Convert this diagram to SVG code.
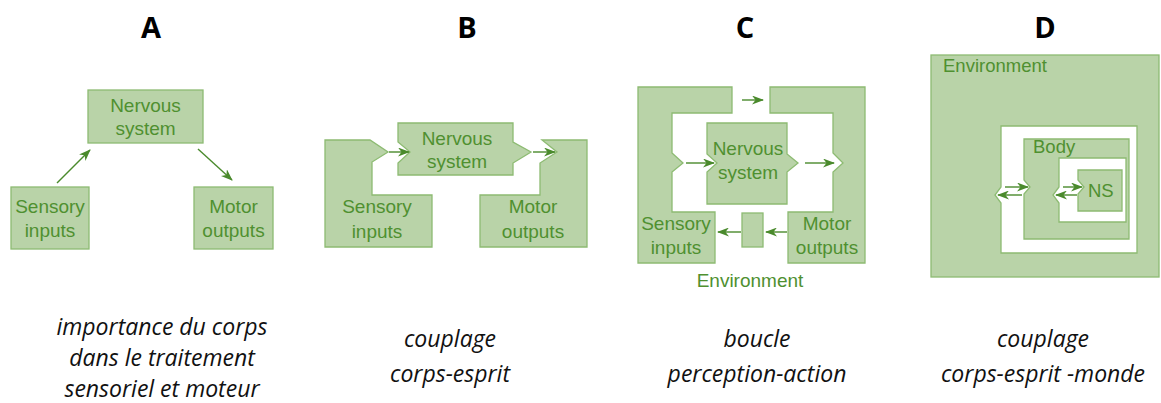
<svg xmlns="http://www.w3.org/2000/svg" width="1161" height="403" viewBox="0 0 1161 403">
<defs>
<marker id="ah" viewBox="0 0 12 9" refX="11" refY="4.5" markerWidth="12" markerHeight="9" markerUnits="userSpaceOnUse" orient="auto">
<path d="M0,0 L12,4.5 L0,9 L3.5,4.5 z" fill="#4a8a2c"/>
</marker>
<style>
.sh{fill:#b9d3a8;stroke:#8dbb72;stroke-width:1.3}
.wh{fill:#ffffff;stroke:#8dbb72;stroke-width:1.3}
.lb{font-family:"Liberation Sans",Arial,sans-serif;font-size:19px;fill:#4f9030;text-anchor:middle}
.lbl{font-family:"Liberation Sans",Arial,sans-serif;font-size:18.5px;fill:#4f9030}
.ar{stroke:#4a8a2c;stroke-width:1.4;fill:none;marker-end:url(#ah)}
.tt{font-family:"Open Sans",sans-serif;font-weight:bold;font-size:29px;fill:#000;text-anchor:middle}
.cap{font-family:"Open Sans",sans-serif;font-style:italic;font-size:23px;fill:#111;text-anchor:middle}
</style>
</defs>
<rect width="1161" height="403" fill="#ffffff"/>

<!-- Titles -->
<text class="tt" x="151" y="38">A</text>
<text class="tt" x="467" y="38">B</text>
<text class="tt" x="745" y="38">C</text>
<text class="tt" x="1045" y="38">D</text>

<!-- Panel A -->
<g id="a-ns"><rect class="sh" x="88" y="90" width="115" height="53"/><text class="lb" x="145.5" y="112">Nervous</text><text class="lb" x="145.5" y="135">system</text></g>
<g id="a-sensory"><rect class="sh" x="11" y="187" width="78" height="62"/><text class="lb" x="50" y="213">Sensory</text><text class="lb" x="50" y="237">inputs</text></g>
<g id="a-motor"><rect class="sh" x="194" y="187" width="79" height="62"/><text class="lb" x="233.5" y="213">Motor</text><text class="lb" x="233.5" y="237">outputs</text></g>

<!-- Panel B -->
<g id="b-sensory"><path class="sh" d="M325,140 L370,140 L388,152 L372,162 L372,195 L432,195 L432,247 L325,247 Z"/><text class="lb" x="377" y="213">Sensory</text><text class="lb" x="377" y="238">inputs</text></g>
<g id="b-ns"><path class="sh" d="M398,123 L513,123 L513,142 L531,152 L513,163 L513,175 L398,175 L398,163 L410,152 L398,142 Z"/><text class="lb" x="457" y="145">Nervous</text><text class="lb" x="457" y="168">system</text></g>
<g id="b-motor"><path class="sh" d="M542,140 L587,140 L587,247 L480,247 L480,195 L540,195 L540,163 L557,152 Z"/><text class="lb" x="533" y="213">Motor</text><text class="lb" x="533" y="238">outputs</text></g>

<!-- Panel C -->
<g id="c-left"><path class="sh" d="M638,87 L732,87 L732,113 L672,113 L672,153 L683,163 L672,172 L672,212 L715,212 L715,263 L638,263 Z"/><text class="lb" x="676" y="230">Sensory</text><text class="lb" x="676" y="254">inputs</text></g>
<g id="c-right"><path class="sh" d="M770,87 L865,87 L865,263 L788,263 L788,212 L833,212 L833,172 L843,163 L833,153 L833,113 L770,113 Z"/><text class="lb" x="827" y="230">Motor</text><text class="lb" x="827" y="254">outputs</text></g>
<g id="c-ns"><path class="sh" d="M707,123 L787,123 L787,154 L798,163 L787,172 L787,204 L707,204 L707,172 L717,163 L707,154 Z"/><text class="lb" x="748" y="155">Nervous</text><text class="lb" x="748" y="179">system</text></g>
<g id="c-small"><rect class="sh" x="742" y="213" width="21" height="34"/></g>
<g id="c-env"><text class="lb" x="750" y="287">Environment</text></g>

<!-- Panel D -->
<g id="d-env"><rect class="sh" x="931" y="55" width="228" height="222"/><text class="lbl" x="943" y="72">Environment</text></g>
<g id="d-gap-outer"><path class="wh" d="M1001,126 L1137,126 L1137,253 L1001,253 L1001,203 L995,195 L1001,187 Z"/></g>
<g id="d-body"><path class="sh" d="M1024,139 L1129,139 L1129,239 L1024,239 L1024,194 L1030,187 L1024,180 Z"/><text class="lbl" x="1033" y="153">Body</text></g>
<g id="d-gap-inner"><path class="wh" d="M1059,158 L1126,158 L1126,222 L1059,222 L1059,203 L1053,195 L1059,187 Z"/></g>
<g id="d-ns"><path class="sh" d="M1078,170 L1122,170 L1122,211 L1078,211 L1078,194 L1084,187 L1078,180 Z"/><text class="lbl" x="1088" y="197">NS</text></g>

<!-- Connectors -->
<g id="connectors">
<line class="ar" x1="57" y1="183" x2="90" y2="150"/>
<line class="ar" x1="198" y1="149" x2="232" y2="180"/>
<line class="ar" x1="389" y1="152" x2="409" y2="152"/>
<line class="ar" x1="533" y1="152" x2="555" y2="152"/>
<line class="ar" x1="742" y1="100" x2="763" y2="100"/>
<line class="ar" x1="686" y1="163" x2="714" y2="163"/>
<line class="ar" x1="805" y1="163" x2="834" y2="163"/>
<line class="ar" x1="787" y1="232" x2="766" y2="232"/>
<line class="ar" x1="741" y1="232" x2="718" y2="232"/>
<line class="ar" x1="1005" y1="187" x2="1028" y2="187"/>
<line class="ar" x1="1022" y1="195" x2="998" y2="195"/>
<line class="ar" x1="1063" y1="187" x2="1082" y2="187"/>
<line class="ar" x1="1077" y1="195" x2="1056" y2="195"/>
</g>

<!-- Captions -->
<text class="cap" x="162" y="335">importance du corps</text>
<text class="cap" x="162" y="366">dans le traitement</text>
<text class="cap" x="162" y="397">sensoriel et moteur</text>
<text class="cap" x="450" y="347">couplage</text>
<text class="cap" x="450" y="382">corps-esprit</text>
<text class="cap" x="757" y="347">boucle</text>
<text class="cap" x="757" y="382">perception-action</text>
<text class="cap" x="1043" y="347">couplage</text>
<text class="cap" x="1043" y="382">corps-esprit -monde</text>
</svg>
